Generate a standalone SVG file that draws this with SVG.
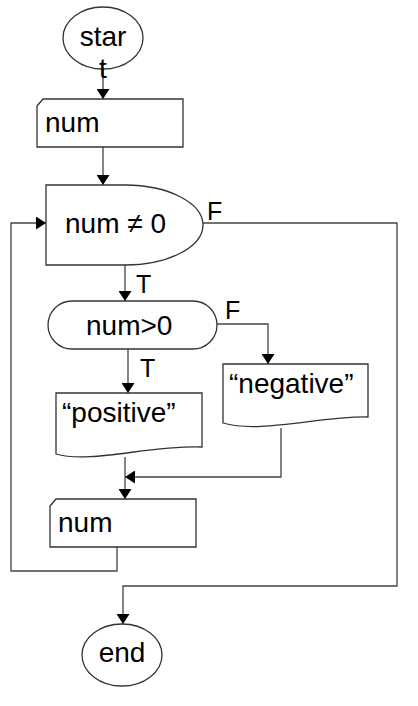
<svg xmlns="http://www.w3.org/2000/svg" width="418" height="706" viewBox="0 0 418 706">
<style>
.shape{fill:#fff;stroke:#333;stroke-width:1.3}
.conn{fill:none;stroke:#444;stroke-width:1.3}
.t{font-family:"Liberation Sans",Arial,sans-serif;font-size:28px;fill:#000}
.lbl{font-family:"Liberation Sans",Arial,sans-serif;font-size:25px;fill:#000}
</style>
<defs>
<marker id="ah" markerWidth="10" markerHeight="13" refX="10" refY="6.5" orient="auto" markerUnits="userSpaceOnUse">
<path d="M0,0 L10,6.5 L0,13 z" fill="#000"/>
</marker>
</defs>
<rect width="418" height="706" fill="#fff"/>
<g id="connectors">
<path class="conn" d="M103,69 L103,99" marker-end="url(#ah)"/>
<path class="conn" d="M103,147 L103,185" marker-end="url(#ah)"/>
<path class="conn" d="M125,265 L125,301" marker-end="url(#ah)"/>
<path class="conn" d="M217,324 L268,324 L268,364" marker-end="url(#ah)"/>
<path class="conn" d="M128,349 L128,393" marker-end="url(#ah)"/>
<path class="conn" d="M281,428 L281,477 L125,477" marker-end="url(#ah)"/>
<path class="conn" d="M125,457 L125,499" marker-end="url(#ah)"/>
<path class="conn" d="M117,547 L117,571 L11,571 L11,223 L46,223" marker-end="url(#ah)"/>
<path class="conn" d="M203,223 L397,223 L397,586 L123,586 L123,624" marker-end="url(#ah)"/>
<text class="lbl" x="207" y="220">F</text>
<text class="lbl" x="136" y="293">T</text>
<text class="lbl" x="225" y="319">F</text>
<text class="lbl" x="140" y="377">T</text>
</g>
<g id="start">
<ellipse class="shape" cx="103" cy="38" rx="40" ry="31"/>
<text class="t" x="103" y="46" text-anchor="middle">star</text>
<text class="t" x="103" y="78" text-anchor="middle">t</text>
</g>
<g id="input-num">
<path class="shape" d="M37,106 L43,99 L183,99 L183,147 L37,147 Z"/>
<text class="t" x="45" y="132">num</text>
</g>
<g id="loop-cond">
<path class="shape" d="M46,185 L125,185 A78,40 0 0 1 125,265 L46,265 Z"/>
<text class="t" x="65" y="233">num ≠ 0</text>
</g>
<g id="sign-cond">
<rect class="shape" x="48" y="301" width="169" height="48" rx="24" ry="24"/>
<text class="t" x="86" y="335">num&gt;0</text>
</g>
<g id="positive">
<path class="shape" d="M56,393 L202,393 L202,447 C150,445 90,464 56,454 Z"/>
<text class="t" x="62" y="422">“positive”</text>
</g>
<g id="negative">
<path class="shape" d="M223,364 L368,364 L368,417 C320,416 260,434 223,423 Z"/>
<text class="t" x="229" y="393">“negative”</text>
</g>
<g id="output-num">
<path class="shape" d="M50,506 L56,499 L196,499 L196,547 L50,547 Z"/>
<text class="t" x="58" y="532">num</text>
</g>
<g id="end">
<ellipse class="shape" cx="122" cy="655" rx="40" ry="31"/>
<text class="t" x="122" y="662" text-anchor="middle">end</text>
</g>
</svg>
